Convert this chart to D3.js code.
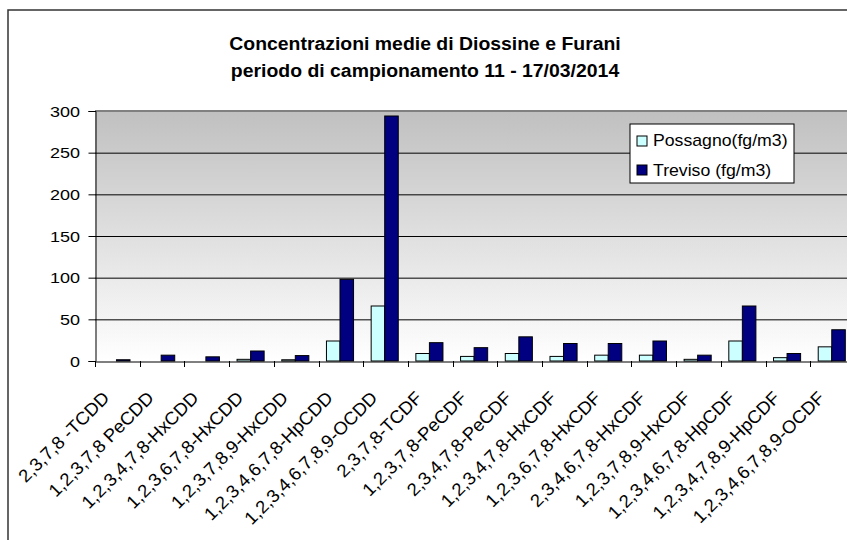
<!DOCTYPE html>
<html><head><meta charset="utf-8">
<script src="https://cdn.jsdelivr.net/npm/d3@7"></script>
<style>body{margin:0;background:#fff;overflow:hidden}svg{display:block;font-family:"Liberation Sans",Arial,sans-serif}</style>
</head><body>
<svg id="c" width="847" height="540"></svg>
<script>
const categories = ["2,3,7,8 -TCDD","1,2,3,7,8 PeCDD","1,2,3,4,7,8-HxCDD","1,2,3,6,7,8-HxCDD","1,2,3,7,8,9-HxCDD","1,2,3,4,6,7,8-HpCDD","1,2,3,4,6,7,8,9-OCDD","2,3,7,8-TCDF","1,2,3,7,8-PeCDF","2,3,4,7,8-PeCDF","1,2,3,4,7,8-HxCDF","1,2,3,6,7,8-HxCDF","2,3,4,6,7,8-HxCDF","1,2,3,7,8,9-HxCDF","1,2,3,4,6,7,8-HpCDF","1,2,3,4,7,8,9-HpCDF","1,2,3,4,6,7,8,9-OCDF"];
const possagno = [0,0,0,2,1.5,24,66,9,5.5,9,5.5,7,7,2,24,4,17];
const treviso  = [1.5,7,5,12,6.5,98,294,22,16,29,21,21,24,7,66,9,37.5];
const seriesNames = ["Possagno(fg/m3)","Treviso (fg/m3)"];
const seriesColors = ["#ccffff","#000080"];
const yTicks = [0,50,100,150,200,250,300];
const titleLines = ["Concentrazioni medie di Diossine e Furani","periodo di campionamento 11 - 17/03/2014"];

const svg = d3.select("#c");
const L = 95, T = 111, W = 760, H = 250;

// outer chart border
svg.append("rect").attr("x",8).attr("y",10).attr("width",900).attr("height",600)
  .attr("fill","#fff").attr("stroke","#333").attr("stroke-width",1.5);

// title
svg.selectAll("text.title").data(titleLines).join("text").attr("class","title")
  .attr("transform",(d,i)=>`translate(425,${50+i*27}) scale(1.05,1)`)
  .attr("text-anchor","middle")
  .attr("font-weight","bold").attr("font-size",18.5).attr("fill","#000").text(d=>d);

const x = d3.scaleBand().domain(categories).range([L, L+W]);
const xs = d3.scaleBand().domain([0,1]).range([0, x.bandwidth()]).paddingInner(0).paddingOuter(0.65).align(0.45);
const y = d3.scaleLinear().domain([0,300]).range([T+H, T]);

// gradient
const defs = svg.append("defs");
const g = defs.append("linearGradient").attr("id","bg").attr("x1",0).attr("y1",0).attr("x2",0).attr("y2",1);
g.append("stop").attr("offset","0%").attr("stop-color","#c0c0c0");
g.append("stop").attr("offset","100%").attr("stop-color","#ffffff");
svg.append("rect").attr("x",L).attr("y",T).attr("width",W).attr("height",H).attr("fill","url(#bg)");

// gridlines
svg.selectAll("line.grid").data(yTicks.filter(v=>v>0 && v<300)).join("line").attr("class","grid")
  .attr("x1",L).attr("x2",L+W).attr("y1",d=>y(d)+0.5).attr("y2",d=>y(d)+0.5)
  .attr("stroke","#000").attr("stroke-width",1);
svg.append("line").attr("x1",L).attr("x2",L+W).attr("y1",y(300)).attr("y2",y(300))
  .attr("stroke","#808080").attr("stroke-width",2);

// bars
const data = [possagno, treviso];
data.forEach((vals, si) => {
  svg.append("g").selectAll("rect").data(vals.map((v,i)=>({v,i})).filter(d=>d.v>0)).join("rect")
    .attr("x",d=>x(categories[d.i])+xs(si))
    .attr("width",xs.bandwidth())
    .attr("y",d=>y(d.v))
    .attr("height",d=>y(0)-y(d.v))
    .attr("fill",seriesColors[si]).attr("stroke","#000").attr("stroke-width",1);
});

// y axis
const ya = svg.append("g").attr("transform",`translate(${L+0.5},0)`)
  .call(d3.axisLeft(y).tickValues(yTicks).tickSize(7).tickFormat(""));
ya.select(".domain").attr("stroke","#000");
ya.selectAll(".tick line").attr("stroke","#000");
svg.append("g").selectAll("text").data(yTicks).join("text")
  .attr("transform",d=>`translate(80,${y(d)+5.5}) scale(1.2,1)`)
  .attr("text-anchor","end").attr("font-size",15).attr("fill","#000").text(d=>d);

// x axis
const xa = svg.append("g").attr("transform",`translate(0,${T+H+0.5})`)
  .call(d3.axisBottom(x).tickSize(0).tickFormat(""));
xa.select(".domain").attr("stroke","#000");
svg.append("g").selectAll("line").data(d3.range(categories.length+1)).join("line")
  .attr("x1",i=>Math.round(L+i*x.step())+0.5).attr("x2",i=>Math.round(L+i*x.step())+0.5)
  .attr("y1",T+H).attr("y2",T+H+6).attr("stroke","#000");

svg.append("g").selectAll("text").data(categories).join("text")
  .attr("transform",d=>`translate(${x(d)+x.bandwidth()/2-7},${T+H+38}) rotate(-45) scale(1.03,1)`)
  .attr("text-anchor","end").attr("font-size",18).attr("fill","#000").text(d=>d);

// legend
const lg = svg.append("g").attr("transform","translate(630,124)");
lg.append("rect").attr("width",164).attr("height",59).attr("fill","#fff").attr("stroke","#000");
seriesNames.forEach((n,i)=>{
  lg.append("rect").attr("x",7).attr("y",12+i*29).attr("width",10).attr("height",10)
    .attr("fill",seriesColors[i]).attr("stroke","#000");
  lg.append("text").attr("transform",`translate(23,${22+i*30}) scale(1.04,1)`)
    .attr("font-size",17).attr("fill","#000").text(n);
});
</script>
</body></html>
